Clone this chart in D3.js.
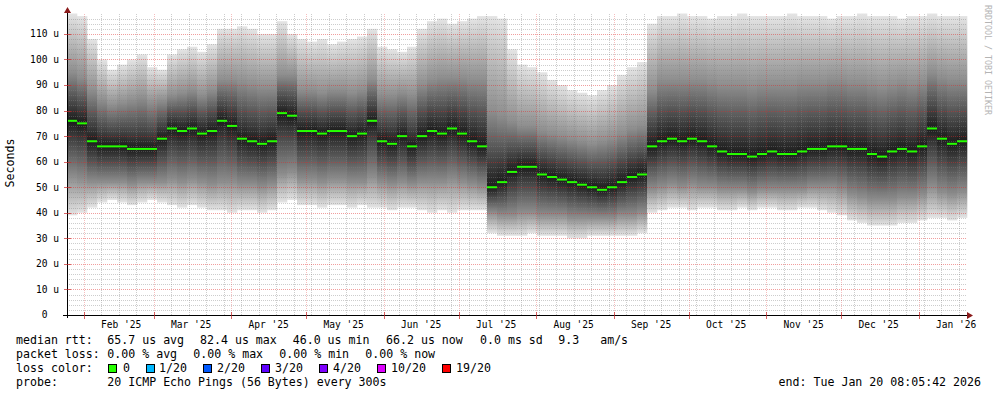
<!DOCTYPE html>
<html>
<head>
<meta charset="utf-8">
<script src="https://cdn.jsdelivr.net/npm/d3@7"></script>
<style>
  body { margin: 0; background: #fff; }
  text { font-family: "DejaVu Sans Mono", monospace; fill: #000; white-space: pre; }
</style>
</head>
<body>
<svg id="chart" width="997" height="397"></svg>
<script>
// 90 bins of 4 days each (values in microseconds)
var binDays = 4;

var medianRtt = [
  76, 75, 68, 66, 66, 66, 65, 65, 65, 69,
  73, 72, 73, 71, 72, 76, 74, 69, 68, 67,
  68, 79, 78, 72, 72, 71, 72, 72, 70, 71,
  76, 68, 67, 70, 66, 70, 72, 71, 73, 71,
  68, 66, 50, 52, 56, 58, 58, 55, 54, 53,
  52, 51, 50, 49, 50, 52, 54, 55, 66, 68,
  69, 68, 69, 68, 66, 64, 63, 63, 62, 63,
  64, 63, 63, 64, 65, 65, 66, 66, 65, 65,
  63, 62, 64, 65, 64, 66, 73, 69, 67, 68
];

var smokeMax = [
  118, 117, 108, 100, 96, 98, 100, 102, 97, 96,
  102, 104, 105, 103, 106, 112, 112, 113, 112, 110,
  110, 115, 110, 108, 107, 108, 106, 107, 108, 109,
  112, 105, 104, 103, 105, 112, 115, 116, 114, 115,
  116, 117, 117, 116, 104, 98, 97, 95, 92, 90,
  88, 87, 86, 88, 90, 94, 97, 99, 114, 117,
  117, 118, 117, 117, 116, 117, 117, 118, 117, 117,
  117, 117, 118, 117, 117, 117, 116, 117, 117, 118,
  117, 117, 117, 116, 117, 117, 118, 117, 117, 117
];

var smokeHi = [
  95, 93, 88, 84, 82, 83, 84, 85, 83, 84,
  86, 87, 88, 86, 88, 92, 92, 91, 90, 89,
  89, 94, 94, 88, 88, 87, 88, 88, 87, 88,
  92, 86, 86, 87, 86, 90, 92, 93, 93, 93,
  92, 92, 80, 78, 76, 74, 74, 72, 71, 70,
  69, 68, 67, 68, 69, 71, 73, 74, 88, 92,
  92, 92, 92, 92, 91, 90, 90, 90, 89, 90,
  90, 90, 90, 91, 91, 91, 92, 92, 91, 91,
  90, 89, 90, 91, 90, 91, 95, 93, 92, 92
];

var smokeLo = [
  54, 53, 52, 52, 52, 52, 51, 52, 52, 52,
  53, 52, 53, 52, 51, 52, 52, 51, 51, 50,
  51, 55, 56, 53, 53, 52, 53, 53, 52, 52,
  54, 52, 51, 52, 51, 52, 52, 52, 53, 52,
  51, 50, 40, 39, 39, 40, 40, 39, 39, 39,
  38, 38, 38, 38, 38, 39, 39, 40, 49, 50,
  51, 50, 51, 50, 50, 49, 49, 49, 48, 49,
  49, 49, 49, 49, 50, 50, 50, 49, 47, 46,
  45, 45, 45, 46, 46, 47, 50, 48, 47, 48
];

var smokeMin = [
  39, 40, 42, 44, 45, 44, 43, 44, 45, 44,
  43, 42, 43, 42, 41, 41, 40, 41, 41, 40,
  41, 44, 45, 43, 43, 42, 43, 43, 42, 43,
  42, 42, 41, 42, 42, 41, 40, 41, 40, 41,
  41, 41, 32, 31, 31, 31, 32, 31, 31, 31,
  30, 30, 31, 31, 31, 31, 31, 32, 40, 41,
  42, 42, 41, 42, 42, 41, 41, 42, 41, 42,
  42, 41, 41, 42, 42, 41, 40, 39, 37, 36,
  35, 35, 35, 36, 36, 37, 38, 38, 37, 38
];

var yTickValues = [0, 10, 20, 30, 40, 50, 60, 70, 80, 90, 100, 110];
var monthLabels = ["Feb '25", "Mar '25", "Apr '25", "May '25", "Jun '25", "Jul '25",
                   "Aug '25", "Sep '25", "Oct '25", "Nov '25", "Dec '25", "Jan '26"];

var lossLabels = ["0", "1/20", "2/20", "3/20", "4/20", "10/20", "19/20"];
var lossColors = ["#26ff00", "#00b8ff", "#0059ff", "#5e00ff", "#7e00ff", "#dd00ff", "#ff0000"];

var rttStats = ["65.7 us avg", "82.4 us max", "46.0 us min", "66.2 us now", "0.0 ms sd", "9.3   am/s"];
var lossStats = ["0.00 % avg", "0.00 % max", "0.00 % min", "0.00 % now"];

var endTime = new Date(2026, 0, 20, 8, 5, 42);
var startTime = d3.timeDay.offset(endTime, -360);

var svg = d3.select("#chart");
var legendSize = 11.6;
var axisSize = 9.6;

var x = d3.scaleTime().domain([startTime, endTime]).range([67, 967]);
var y = d3.scaleLinear().domain([0, 118]).range([315, 13.5]);

svg.append("rect").attr("width", 997).attr("height", 397).attr("fill", "#fff");

// smoke: one gradient per bin, stops at the read quantiles
var defs = svg.append("defs");
var smoke = svg.append("g");
medianRtt.forEach(function(m, i) {
  var yTop = y(smokeMax[i]);
  var yBot = y(smokeMin[i]);
  var grad = defs.append("linearGradient")
    .attr("id", "smoke" + i)
    .attr("gradientUnits", "userSpaceOnUse")
    .attr("x1", 0).attr("x2", 0)
    .attr("y1", yTop).attr("y2", yBot);
  var stops = [
    [smokeMax[i], "#e4e4e4"],
    [smokeHi[i], "#8e8e8e"],
    [m, "#1c1c1c"],
    [smokeLo[i], "#8e8e8e"],
    [smokeMin[i], "#e4e4e4"]
  ];
  stops.forEach(function(s) {
    grad.append("stop")
      .attr("offset", (y(s[0]) - yTop) / (yBot - yTop))
      .attr("stop-color", s[1]);
  });
  var x0 = x(d3.timeDay.offset(startTime, binDays * i));
  var x1 = x(d3.timeDay.offset(startTime, binDays * (i + 1)));
  smoke.append("rect")
    .attr("x", x0)
    .attr("width", x1 - x0 + 0.3)
    .attr("y", yTop)
    .attr("height", yBot - yTop)
    .attr("fill", "url(#smoke" + i + ")");
});

// grid, dotted
var grid = svg.append("g");
var minorColor = "rgba(130,130,130,0.4)";
var majorColor = "rgba(225,40,40,0.45)";
var majorVColor = "rgba(225,40,40,0.3)";

function hLine(v, color) {
  var yy = Math.round(y(v)) + 0.5;
  grid.append("line")
    .attr("x1", 67).attr("x2", 967).attr("y1", yy).attr("y2", yy)
    .attr("stroke", color).attr("stroke-dasharray", "1,1");
}
function vLine(d, color) {
  var xx = Math.round(x(d)) + 0.5;
  grid.append("line")
    .attr("x1", xx).attr("x2", xx).attr("y1", 315).attr("y2", 13)
    .attr("stroke", color).attr("stroke-dasharray", "1,1");
}

for (var v = 2; v <= 116; v += 2) {
  if (v % 10 !== 0) hLine(v, minorColor);
}
var monthStarts = d3.timeMonth.range(d3.timeMonth.ceil(startTime), endTime);
var monthKeys = monthStarts.map(function(d) { return +d; });
d3.timeSaturday.range(startTime, endTime).forEach(function(d) {
  if (monthKeys.indexOf(+d) < 0) vLine(d, minorColor);
});
yTickValues.slice(1).forEach(function(v) { hLine(v, majorColor); });
monthStarts.forEach(function(d) { vLine(d, majorVColor); });

// median, coloured by loss (all zero loss here)
var med = svg.append("g");
medianRtt.forEach(function(m, i) {
  var x0 = x(d3.timeDay.offset(startTime, binDays * i));
  var x1 = x(d3.timeDay.offset(startTime, binDays * (i + 1)));
  med.append("rect")
    .attr("x", x0).attr("width", x1 - x0)
    .attr("y", y(m) - 1).attr("height", 2)
    .attr("fill", lossColors[0]);
});

// axes
var axes = svg.append("g").attr("shape-rendering", "crispEdges");
axes.append("line").attr("x1", 67.5).attr("x2", 67.5).attr("y1", 318).attr("y2", 12)
  .attr("stroke", "#000");
axes.append("line").attr("x1", 63).attr("x2", 968).attr("y1", 315.5).attr("y2", 315.5)
  .attr("stroke", "#000");
yTickValues.forEach(function(v) {
  var yy = Math.round(y(v)) + 0.5;
  axes.append("line").attr("x1", 64).attr("x2", 71).attr("y1", yy).attr("y2", yy)
    .attr("stroke", v === 0 ? "#000" : "rgba(200,40,40,0.7)");
});
monthStarts.forEach(function(d) {
  var xx = Math.round(x(d)) + 0.5;
  axes.append("line").attr("x1", xx).attr("x2", xx).attr("y1", 312).attr("y2", 319)
    .attr("stroke", "rgba(200,40,40,0.7)");
});
svg.append("path").attr("d", "M64,13L71,13L67.5,7Z").attr("fill", "#8b1a1a");
svg.append("path").attr("d", "M967,312L967,319L973,315.5Z").attr("fill", "#8b1a1a");

// y tick labels
svg.append("g").selectAll("text")
  .data(yTickValues)
  .enter()
  .append("text")
  .attr("x", 59)
  .attr("y", function(d) { return y(d); })
  .attr("dy", "0.35em")
  .attr("text-anchor", "end")
  .attr("font-size", axisSize)
  .text(function(d) { return d === 0 ? "0  " : d + " u"; });

// month labels, centered mid-month
svg.append("g").selectAll("text")
  .data(monthStarts)
  .enter()
  .append("text")
  .attr("x", function(d) { return x(d3.timeDay.offset(d, 15)); })
  .attr("y", 328)
  .attr("text-anchor", "middle")
  .attr("font-size", axisSize)
  .text(function(d, i) { return monthLabels[i]; });

svg.append("text")
  .attr("transform", "translate(14,163) rotate(-90)")
  .attr("text-anchor", "middle")
  .attr("font-size", legendSize)
  .text("Seconds");

svg.append("text")
  .attr("transform", "translate(985,5) rotate(90)")
  .attr("font-size", 8.3)
  .style("fill", "#b4b4b4")
  .text("RRDTOOL / TOBI OETIKER");

// legend
var legend = svg.append("g").attr("font-size", legendSize);
var rttX = [107.3, 200, 292.7, 386, 480, 558.3];
var lossX = [107.3, 193.3, 279.3, 365.3];
var swatchX = [108, 145.7, 203.3, 261.3, 319.3, 377.3, 442];
var swatchTextX = [123, 159, 217, 275, 333, 391, 456];

legend.append("text").attr("x", 16).attr("y", 344).text("median rtt:");
rttStats.forEach(function(s, i) {
  legend.append("text").attr("x", rttX[i]).attr("y", 344).text(s);
});
legend.append("text").attr("x", 16).attr("y", 358).text("packet loss:");
lossStats.forEach(function(s, i) {
  legend.append("text").attr("x", lossX[i]).attr("y", 358).text(s);
});
legend.append("text").attr("x", 16).attr("y", 372).text("loss color:");
lossLabels.forEach(function(s, i) {
  legend.append("rect")
    .attr("x", Math.round(swatchX[i]) + 0.5).attr("y", 364.5)
    .attr("width", 8).attr("height", 8)
    .attr("fill", lossColors[i]).attr("stroke", "#000");
  legend.append("text").attr("x", swatchTextX[i]).attr("y", 372).text(s);
});
legend.append("text").attr("x", 16).attr("y", 386).text("probe:");
legend.append("text").attr("x", 107.3).attr("y", 386).text("20 ICMP Echo Pings (56 Bytes) every 300s");
legend.append("text").attr("x", 981).attr("y", 386).attr("text-anchor", "end")
  .text("end: Tue Jan 20 08:05:42 2026");
</script>
</body>
</html>
